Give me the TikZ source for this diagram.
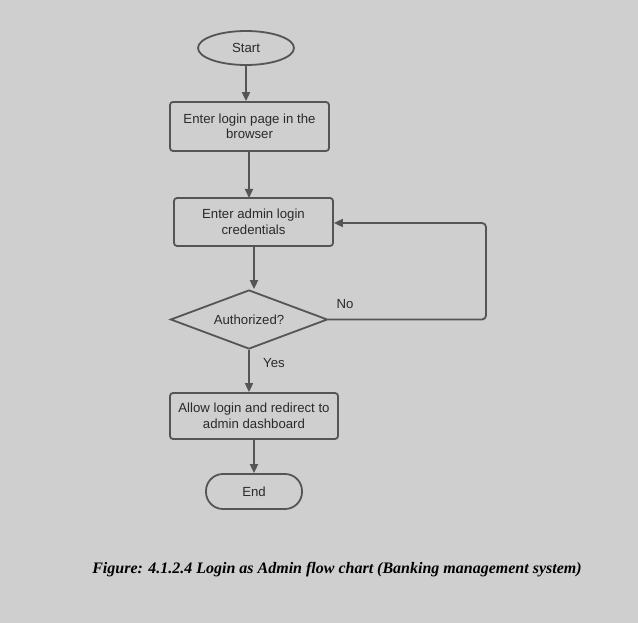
\documentclass[tikz,border=0pt]{standalone}
\usepackage{fontspec}
\setmainfont{Liberation Sans}
\newfontfamily\capfont{Liberation Serif}
\usetikzlibrary{shapes.geometric,arrows.meta}
\definecolor{bgc}{HTML}{CFCFCF}
\definecolor{linec}{HTML}{555555}
\definecolor{txtc}{HTML}{2A2A2A}
\tikzset{
  procbox/.style={draw=linec, line width=1.8pt, rounded corners=3pt, align=center, text=txtc, font=\fontsize{13.2}{15.5}\selectfont, inner sep=0pt},
  term/.style={draw=linec, line width=1.8pt, text=txtc, font=\fontsize{13.2}{15.5}\selectfont, inner sep=0pt},
  flow/.style={draw=linec, line width=1.8pt, -{Triangle[length=9pt,width=8pt]}},
  lbl/.style={text=txtc, font=\fontsize{13.2}{15.5}\selectfont}
}
\begin{document}
\begin{tikzpicture}[x=1pt,y=-1pt]
\fill[bgc] (0,0) rectangle (638,623);
\useasboundingbox (0,0) rectangle (638,623);
\node[term, ellipse, minimum width=96pt, minimum height=34pt] (start) at (246,48) {Start};
\node[procbox, minimum width=159pt, minimum height=49pt] (b1) at (249.5,126.5) {Enter login page in the\\browser};
\node[procbox, minimum width=159pt, minimum height=48pt] (b2) at (253.5,222) {Enter admin login\\credentials};
\node[term, diamond, aspect=2.66, minimum width=157pt, minimum height=59pt] (d) at (249,319.5) {Authorized?};
\node[procbox, minimum width=168pt, minimum height=46pt] (b3) at (254,416) {Allow login and redirect to\\admin dashboard};
\node[term, rounded corners=17pt, minimum width=96pt, minimum height=35pt] (end) at (254,491.5) {End};
\coordinate (c1) at (486,319.5);
\coordinate (c2) at (486,223);
\draw[flow] (start.south) -- (start.south |- b1.north);
\draw[flow] (b1.south -| 249,0) -- (249,198);
\draw[flow] (254,246) -- (d.north -| 254,0);
\draw[flow] (d.south) -- (d.south |- b3.north);
\draw[flow] (b3.south) -- (end.north);
\draw[flow, rounded corners=4pt] (d.east) -- (c1) -- (c2) -- (b2.east |- c2);
\node[lbl] (no) at (345,304) {No};
\node[lbl] (yes) at (274,363) {Yes};
\node[font=\capfont\bfseries\itshape\fontsize{16}{19}\selectfont, text=black] (cap) at (337,570) {Figure: 4.1.2.4 Login as Admin flow chart (Banking management system)};
\end{tikzpicture}
\end{document}
